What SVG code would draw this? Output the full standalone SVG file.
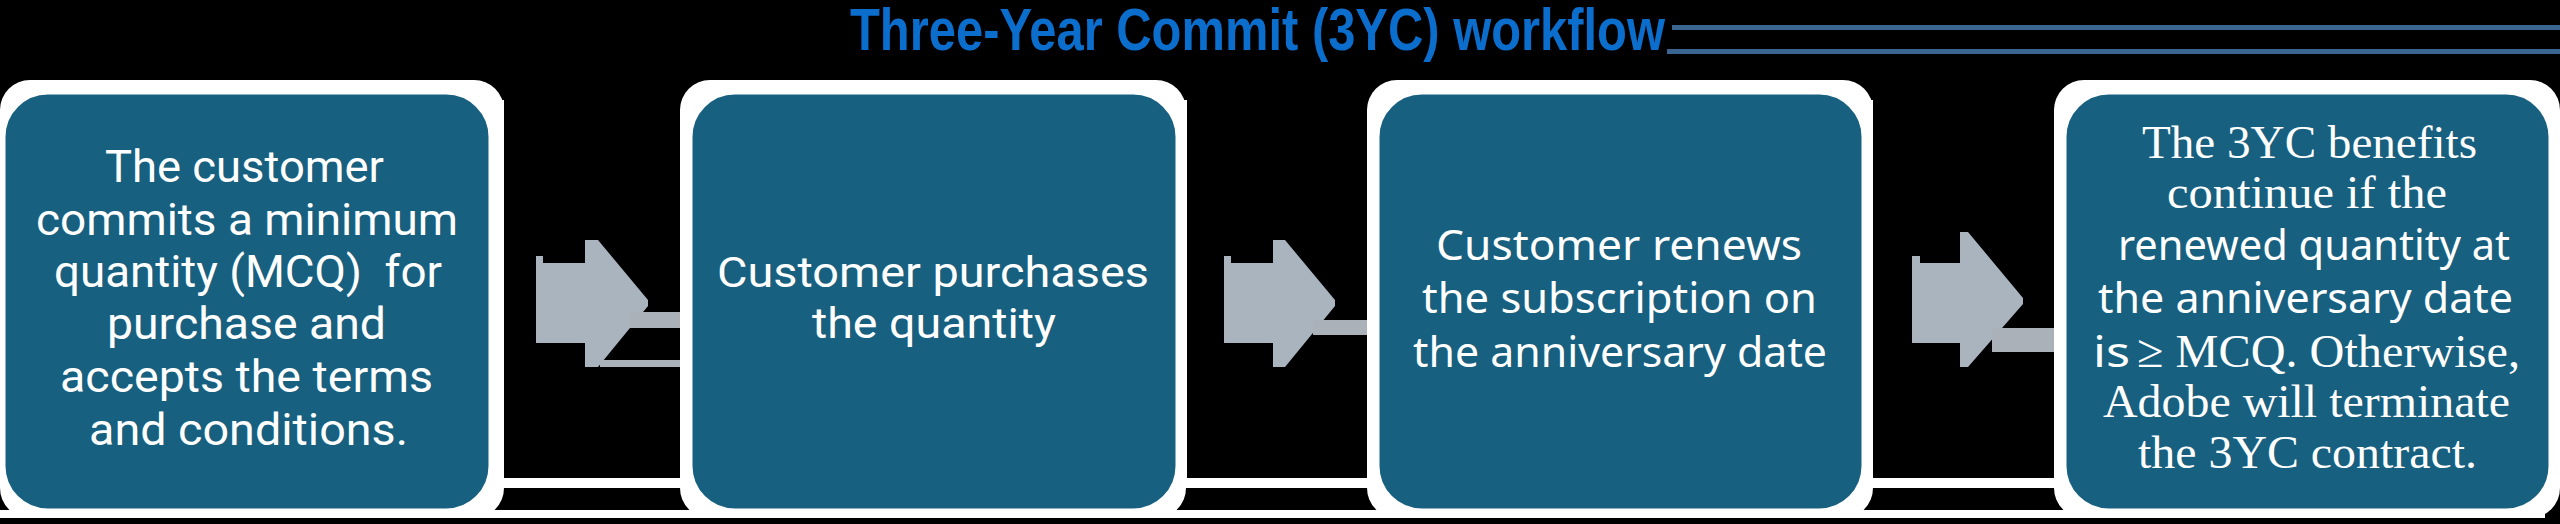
<svg xmlns="http://www.w3.org/2000/svg" width="2560" height="524" viewBox="0 0 2560 524">
<style>
.halo{fill:#ffffff}
.box{fill:#18607f;stroke:#ffffff;stroke-width:3}
.t{fill:#ffffff;font-family:Roboto,"Liberation Sans",sans-serif;font-size:44px}
.r{fill:#ffffff;font-family:Roboto,"Liberation Sans",sans-serif;font-size:42px}
.s{fill:#ffffff;font-family:"Noto Sans","Liberation Sans",sans-serif;font-size:42px}
.f{fill:#ffffff;font-family:"Liberation Serif","Times New Roman",serif;font-size:47px}
.arrow{fill:#a9b4be}
.bar{fill:#aab1b8}
.title{fill:#0b6dcc;font-family:"Liberation Sans",Arial,sans-serif;font-weight:bold;font-size:60px}
.rule{fill:#3b6591}
</style>
<rect x="0" y="0" width="2560" height="524" fill="#000000"/>
<g id="title">
<text class="title" x="850" y="50" textLength="815" lengthAdjust="spacingAndGlyphs">Three-Year Commit (3YC) workflow</text>
<rect class="rule" x="1672" y="25" width="888" height="5"/>
<rect class="rule" x="1667" y="49" width="893" height="5"/>
</g>
<g id="frame">
<rect class="halo" x="0" y="510" width="2545" height="8"/>
<rect class="halo" x="490" y="100" width="14" height="388"/>
<rect class="halo" x="504" y="478" width="176" height="10"/>
<rect class="halo" x="1177" y="100" width="10" height="388"/>
<rect class="halo" x="1187" y="478" width="181" height="10"/>
<rect class="halo" x="1863" y="100" width="10" height="388"/>
<rect class="halo" x="1873" y="478" width="182" height="10"/>
</g>
<g id="connectors">
<polygon class="arrow" points="536,256 543,256 543,263 585,263 585,240 598,240 648,300 648,306 598,367 585,367 585,343 536,343"/>
<rect class="bar" x="630" y="312" width="50" height="16"/>
<rect class="bar" x="600" y="360" width="80" height="7"/>
<polygon class="arrow" points="1224,256 1231,256 1231,263 1273,263 1273,240 1285,240 1335,300 1335,306 1285,367 1273,367 1273,343 1224,343"/>
<rect class="bar" x="1313" y="320" width="55" height="15"/>
<polygon class="arrow" points="1912,256 1920,256 1920,263 1960,263 1960,232 1968,232 2023,298 2023,304 1968,367 1960,367 1960,343 1912,343"/>
<rect class="bar" x="1992" y="328" width="63" height="24"/>
</g>
<g id="node1">
<rect class="halo" x="0" y="80" width="504" height="438" rx="30"/>
<rect class="box" x="4" y="93" width="486" height="417" rx="44"/>
<text class="t" x="105" y="182" textLength="279" lengthAdjust="spacingAndGlyphs">The customer</text>
<text class="t" x="36" y="235" textLength="422" lengthAdjust="spacingAndGlyphs">commits a minimum</text>
<text class="t" x="54" y="287" textLength="388" lengthAdjust="spacingAndGlyphs" xml:space="preserve">quantity (MCQ)  for</text>
<text class="t" x="107" y="339" textLength="279" lengthAdjust="spacingAndGlyphs">purchase and</text>
<text class="t" x="60" y="392" textLength="373" lengthAdjust="spacingAndGlyphs">accepts the terms</text>
<text class="t" x="89" y="445" textLength="319" lengthAdjust="spacingAndGlyphs">and conditions.</text>
</g>
<g id="node2">
<rect class="halo" x="680" y="80" width="506" height="438" rx="30"/>
<rect class="box" x="691" y="93" width="486" height="417" rx="44"/>
<text class="r" x="717" y="287" textLength="432" lengthAdjust="spacingAndGlyphs">Customer purchases</text>
<text class="r" x="812" y="338" textLength="244" lengthAdjust="spacingAndGlyphs">the quantity</text>
</g>
<g id="node3">
<rect class="halo" x="1367" y="80" width="506" height="438" rx="30"/>
<rect class="box" x="1378" y="93" width="485" height="417" rx="44"/>
<text class="s" x="1436" y="260" textLength="366" lengthAdjust="spacingAndGlyphs">Customer renews</text>
<text class="s" x="1422" y="313" textLength="395" lengthAdjust="spacingAndGlyphs">the subscription on</text>
<text class="s" x="1413" y="367" textLength="414" lengthAdjust="spacingAndGlyphs">the anniversary date</text>
</g>
<g id="node4">
<rect class="halo" x="2054" y="80" width="506" height="438" rx="30"/>
<rect class="box" x="2065" y="93" width="485" height="417" rx="44"/>
<text class="f" x="2142" y="158" textLength="335" lengthAdjust="spacingAndGlyphs">The 3YC benefits</text>
<text class="f" x="2167" y="208" textLength="280" lengthAdjust="spacingAndGlyphs">continue if the</text>
<text class="s" x="2118" y="260" textLength="392" lengthAdjust="spacingAndGlyphs">renewed quantity at</text>
<text class="s" x="2098" y="313" textLength="415" lengthAdjust="spacingAndGlyphs">the anniversary date</text>
<text class="s" x="2093" y="367" textLength="37" lengthAdjust="spacingAndGlyphs">is</text>
<text class="f" x="2137" y="367" textLength="383" lengthAdjust="spacingAndGlyphs">≥ MCQ. Otherwise,</text>
<text class="f" x="2103" y="417" textLength="407" lengthAdjust="spacingAndGlyphs">Adobe will terminate</text>
<text class="f" x="2138" y="468" textLength="339" lengthAdjust="spacingAndGlyphs">the 3YC contract.</text>
</g>
</svg>
